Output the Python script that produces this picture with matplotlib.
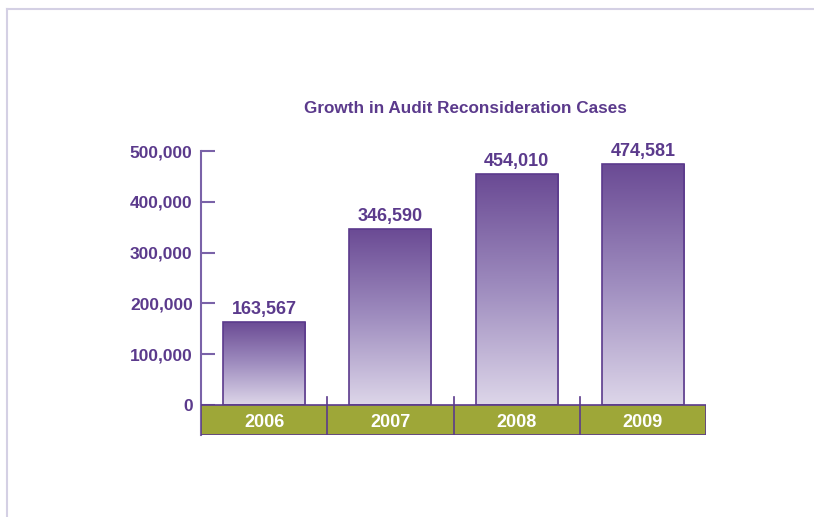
import numpy as np
import matplotlib.pyplot as plt
from matplotlib.colors import LinearSegmentedColormap
from matplotlib.patches import Rectangle
from matplotlib.lines import Line2D

years = ['2006', '2007', '2008', '2009']
cases = [163567, 346590, 454010, 474581]
yticks = [0, 100000, 200000, 300000, 400000, 500000]

PURPLE = '#5b3a8c'
GREEN = '#9ea738'

plt.rcParams['font.family'] = ['Liberation Sans Narrow', 'Liberation Sans', 'DejaVu Sans']

fig = plt.figure(figsize=(8.14, 5.17), dpi=100)
ax = fig.add_axes([201 / 814, 82 / 517, 505 / 814, 284 / 517])

# page frame lines
fig.add_artist(Line2D([7 / 814, 1], [1 - 9 / 517] * 2, color='#d4d0e4', lw=1.5))
fig.add_artist(Line2D([7 / 814] * 2, [0, 1 - 9 / 517], color='#d4d0e4', lw=1.5))

band = -59000
x = np.arange(len(years))
bars = ax.bar(x, cases, width=0.65, color='none', edgecolor=PURPLE, lw=1.2, zorder=3)

cmap = LinearSegmentedColormap.from_list('g', ['#ddd6e9', '#9f8dbf', '#6a4a94'])
grad = np.linspace(0, 1, 256).reshape(-1, 1)
for b in bars:
    im = ax.imshow(grad, cmap=cmap, origin='lower', aspect='auto',
                   extent=[b.get_x(), b.get_x() + b.get_width(), 0, b.get_height()], zorder=2)
    im.set_clip_path(b)
    ax.text(b.get_x() + b.get_width() / 2, b.get_height() + 8000, f'{b.get_height():,.0f}',
            ha='center', va='bottom', color=PURPLE, fontsize=13, fontweight='bold')

# green category band
ax.add_patch(Rectangle((-0.5, band), len(years), -band, facecolor=GREEN,
                       edgecolor=PURPLE, lw=1.2, zorder=4))
for i in range(1, len(years)):
    ax.plot([i - 0.5, i - 0.5], [band - 4000, 15000], color=PURPLE, lw=1.2, zorder=5)
for i, yr in enumerate(years):
    ax.text(i, band / 2 - 4000, yr, ha='center', va='center', color='white',
            fontsize=13, fontweight='bold', zorder=6)

ax.set_xlim(-0.5, len(years) - 0.5)
ax.set_ylim(band, 500000)
for s in ['top', 'right', 'bottom']:
    ax.spines[s].set_visible(False)
ax.spines['left'].set_color('#7a62a8')
ax.spines['left'].set_linewidth(1.5)
ax.spines['left'].set_bounds(band, 500000)
ax.set_xticks([])
ax.set_yticks(yticks)
ax.set_yticklabels([f'{v:,}' for v in yticks])
ax.tick_params(axis='y', direction='in', length=10, width=1.5, color='#7a62a8',
               labelcolor=PURPLE, labelsize=12.5, pad=6)
for lbl in ax.get_yticklabels():
    lbl.set_fontweight('bold')

fig.text(465 / 814, 1 - 109 / 517, 'Growth in Audit Reconsideration Cases',
         ha='center', va='center', color=PURPLE, fontsize=12.3, fontweight='bold')

fig.savefig('out.png', dpi=100)
